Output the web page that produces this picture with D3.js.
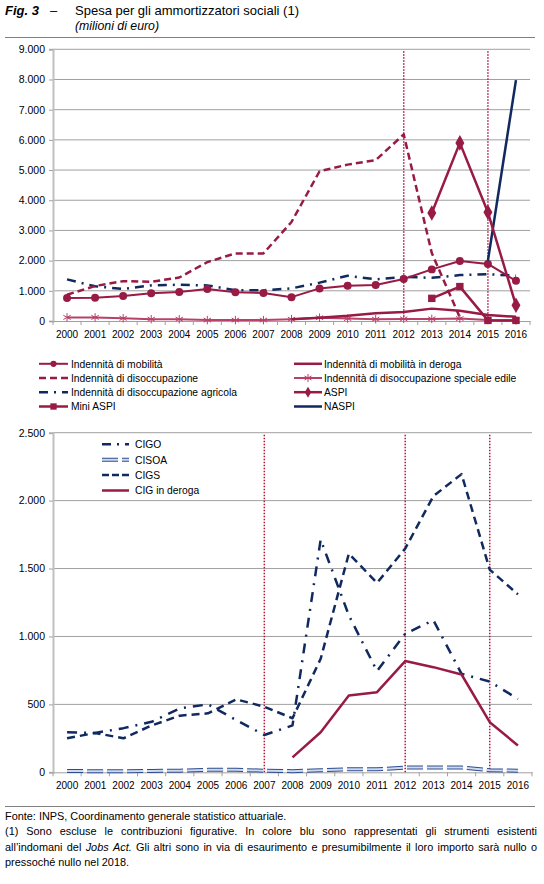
<!DOCTYPE html>
<html><head><meta charset="utf-8">
<script src="https://cdn.jsdelivr.net/npm/d3@7"></script>
<style>body{margin:0;background:#fff} svg{display:block} text{font-family:"Liberation Sans",Arial,sans-serif;fill:#000}</style>
</head><body><svg id="c" width="544" height="884"></svg>
<script>
// ---------- DATA ----------
const years = ["2000","2001","2002","2003","2004","2005","2006","2007","2008","2009","2010","2011","2012","2013","2014","2015","2016"];
const topTicks = [0,1000,2000,3000,4000,5000,6000,7000,8000,9000];
const bottomTicks = [0,500,1000,1500,2000,2500];
const N = null;
const mobilita      = [760,770,830,920,960,1060,950,930,790,1080,1170,1190,1390,1710,1990,1890,1330];
const disoccupazione= [870,1160,1320,1300,1440,1950,2240,2240,3280,4960,5180,5330,6180,2250,120,N,N];
const agricola      = [1380,1150,1060,1180,1200,1180,1020,1020,1080,1270,1500,1380,1460,1430,1520,1550,1500];
const mobDeroga     = [N,N,N,N,N,N,N,N,60,110,170,260,300,410,340,200,140];
const edile         = [120,120,90,60,60,30,30,30,60,110,80,60,70,70,80,30,20];
const aspi          = [N,N,N,N,N,N,N,N,N,N,N,N,N,3580,5900,3600,520];
const miniAspi      = [N,N,N,N,N,N,N,N,N,N,N,N,N,750,1140,20,20];
const naspi         = [N,N,N,N,N,N,N,N,N,N,N,N,N,N,N,2000,7980];

const cigo      = [294,290,325,372,470,500,385,275,345,1713,1155,745,1020,1120,725,668,540];
const cisoa     = [10,8,8,10,12,18,18,12,8,15,22,22,35,35,35,15,12];
const cigs      = [250,290,250,345,417,434,537,483,398,836,1610,1394,1647,2033,2195,1492,1310];
const cigDeroga = [N,N,N,N,N,N,N,N,110,295,565,590,819,774,720,369,197];

const topMarkYears = ["2012","2015"];
const bottomMarkYears = ["2007","2012","2015"];

const topLegend = [
  {name:"Indennità di mobilità", col:0, key:"mob"},
  {name:"Indennità di disoccupazione", col:0, key:"dis"},
  {name:"Indennità di disoccupazione agricola", col:0, key:"agr"},
  {name:"Mini ASPI", col:0, key:"mini"},
  {name:"Indennità di mobilità in deroga", col:1, key:"mder"},
  {name:"Indennità di disoccupazione speciale edile", col:1, key:"edi"},
  {name:"ASPI", col:1, key:"aspi"},
  {name:"NASPI", col:1, key:"naspi"}
];
const bottomLegend = ["CIGO","CISOA","CIGS","CIG in deroga"];

// ---------- STYLE ----------
const RED = "#981b45", NAVY = "#10295f", PINK = "#b8416a";
const svg = d3.select("#c");
const fmt = d3.formatLocale({decimal:",",thousands:".",grouping:[3],currency:["","€"]}).format(",d");

// ---------- TITLE ----------
svg.append("text").attr("x",5).attr("y",15).style("font-size","13px")
  .style("font-weight","bold").style("font-style","italic").text("Fig. 3");
svg.append("text").attr("x",50).attr("y",15).style("font-size","13px").text("–");
svg.append("text").attr("x",75).attr("y",15).style("font-size","13px").text("Spesa per gli ammortizzatori sociali (1)");
svg.append("text").attr("x",75).attr("y",30).style("font-size","12.3px").style("font-style","italic").text("(milioni di euro)");
svg.append("line").attr("x1",5).attr("x2",535).attr("y1",37.5).attr("y2",37.5).attr("stroke","#808080").attr("stroke-width",1);

// ---------- helpers ----------
function drawPanel(cfg){
  const x = d3.scaleBand().domain(years).range([cfg.x0,cfg.x1]).padding(0);
  const xc = d => x(d)+x.bandwidth()/2;
  const y = d3.scaleLinear().domain([0,cfg.max]).range([cfg.yb,cfg.yt]);
  const g = svg.append("g");
  g.selectAll(".grid").data(cfg.ticks.filter(t=>t>0)).join("line")
    .attr("x1",cfg.x0).attr("x2",cfg.x1).attr("y1",d=>y(d)).attr("y2",d=>y(d))
    .attr("stroke","#a0a0a0").attr("stroke-width",1);
  const ya = d3.axisLeft(y).tickValues(cfg.ticks).tickFormat(fmt).tickSize(4).tickPadding(4);
  const yg = g.append("g").attr("transform",`translate(${cfg.x0},0)`).call(ya);
  yg.select(".domain").attr("stroke","#c0c0c0").attr("stroke-width",2);
  yg.selectAll(".tick line").attr("stroke","#a0a0a0");
  yg.selectAll("text").style("font-size","10.5px").style("fill","#000").style("font-family","'Liberation Sans',Arial,sans-serif");
  const xa = d3.axisBottom(x).tickSize(0).tickPadding(10);
  const xg = g.append("g").attr("transform",`translate(0,${cfg.yb})`).call(xa);
  xg.select(".domain").attr("stroke","#a0a0a0").attr("stroke-width",1);
  xg.selectAll("text").style("font-size","10px").style("fill","#000").style("font-family","'Liberation Sans',Arial,sans-serif");
  xg.selectAll(".btick").data(years.concat(["end"])).join("line").attr("class","btick")
    .attr("x1",(d,i)=>cfg.x0+i*x.bandwidth()).attr("x2",(d,i)=>cfg.x0+i*x.bandwidth())
    .attr("y1",0).attr("y2",4).attr("stroke","#a0a0a0");
  g.selectAll(".vm").data(cfg.marks).join("line")
    .attr("x1",d=>xc(d)).attr("x2",d=>xc(d)).attr("y1",cfg.yt+2).attr("y2",cfg.yb)
    .attr("stroke","#b0173f").attr("stroke-width",1.5).attr("stroke-dasharray","1.5,1.5");
  return {x,xc,y,g};
}
function series(vals){ return vals.map((v,i)=>({yr:years[i],v})); }
function drawLine(P, vals, st){
  const line = d3.line().defined(d=>d.v!=null).x(d=>P.xc(d.yr)).y(d=>P.y(d.v));
  const p = P.g.append("path").datum(series(vals)).attr("d",line).attr("fill","none")
    .attr("stroke",st.color).attr("stroke-width",st.w||2.5).attr("stroke-linejoin","round");
  if(st.dash) p.attr("stroke-dasharray",st.dash);
  return p;
}
function drawMarkers(P, vals, type, color, size){
  const pts = series(vals).filter(d=>d.v!=null);
  const sym = d3.symbol().type(type).size(size);
  const m = P.g.selectAll(null).data(pts).join("path")
    .attr("transform",d=>`translate(${P.xc(d.yr)},${P.y(d.v)})`).attr("d",sym);
  if(type===d3.symbolAsterisk) m.attr("fill","none").attr("stroke",color).attr("stroke-width",1);
  else m.attr("fill",color);
}

// ---------- TOP CHART ----------
const T = drawPanel({x0:53,x1:530,yt:49.3,yb:321,max:9000,ticks:topTicks,marks:topMarkYears});
drawLine(T, agricola, {color:NAVY, dash:"9,6,2,6", w:2.5});
drawLine(T, disoccupazione, {color:RED, dash:"7,4", w:2.5});
drawLine(T, edile, {color:PINK, w:2});
drawMarkers(T, edile, d3.symbolAsterisk, PINK, 50);
drawLine(T, mobDeroga, {color:RED, w:2.5});
drawLine(T, mobilita, {color:RED, w:2});
drawMarkers(T, mobilita, d3.symbolCircle, RED, 50);
drawLine(T, miniAspi, {color:RED, w:2.5});
drawMarkers(T, miniAspi, d3.symbolSquare, RED, 55);
drawLine(T, naspi, {color:NAVY, w:2.5});
drawLine(T, aspi, {color:RED, w:2.5});
drawMarkers(T, aspi, d3.symbolDiamond, RED, 70);

// top legend
const legStyle = {
  mob:{color:RED,w:2,m:d3.symbolCircle,ms:30},
  dis:{color:RED,w:2.5,dash:"7,4"},
  agr:{color:NAVY,w:2.5,dash:"9,6,2,6"},
  mini:{color:RED,w:2.5,m:d3.symbolSquare,ms:40},
  mder:{color:RED,w:2.5},
  edi:{color:PINK,w:2,m:d3.symbolAsterisk,ms:45},
  aspi:{color:RED,w:2.5,m:d3.symbolDiamond,ms:35},
  naspi:{color:NAVY,w:2.5}
};
const rowY = [363.8,378,392.2,406.5];
topLegend.forEach(it=>{
  const idx = topLegend.filter(o=>o.col===it.col).indexOf(it);
  const yy = rowY[idx];
  const lx0 = it.col===0 ? 39 : 294, lx1 = it.col===0 ? 68 : 322, tx = it.col===0 ? 71 : 324;
  const s = legStyle[it.key];
  const l = svg.append("line").attr("x1",lx0).attr("x2",lx1).attr("y1",yy).attr("y2",yy)
    .attr("stroke",s.color).attr("stroke-width",s.w);
  if(s.dash) l.attr("stroke-dasharray",s.dash);
  if(s.m){
    const mk = svg.append("path").attr("transform",`translate(${(lx0+lx1)/2},${yy})`).attr("d",d3.symbol().type(s.m).size(s.ms)());
    if(s.m===d3.symbolAsterisk) mk.attr("fill","none").attr("stroke",s.color).attr("stroke-width",1);
    else mk.attr("fill",s.color);
  }
  svg.append("text").attr("x",tx).attr("y",yy+3.7).style("font-size","10.3px").text(it.name);
});

// ---------- BOTTOM CHART ----------
const B = drawPanel({x0:53,x1:532,yt:432.7,yb:772.3,max:2500,ticks:bottomTicks,marks:bottomMarkYears});
drawLine(B, cisoa, {color:"#2c4c8f", w:4, dash:"16,4"});
drawLine(B, cisoa, {color:"#cfdaf0", w:2, dash:"16,4"});
drawLine(B, cigo, {color:NAVY, dash:"10,7,2,7", w:2.5});
drawLine(B, cigs, {color:NAVY, dash:"8,5", w:2.5});
drawLine(B, cigDeroga, {color:RED, w:2.5});

const bRowY = [444.3,459.8,475,490.5];
bottomLegend.forEach((name,i)=>{
  const yy = bRowY[i];
  const mk = (c,w,d)=>{const l=svg.append("line").attr("x1",102).attr("x2",129).attr("y1",yy).attr("y2",yy).attr("stroke",c).attr("stroke-width",w); if(d) l.attr("stroke-dasharray",d);};
  if(i===0) mk(NAVY,2.5,"9,6,2,6");
  if(i===1){ mk("#2c4c8f",4,"16,4"); mk("#cfdaf0",2,"16,4"); }
  if(i===2) mk(NAVY,2.5,"7,3");
  if(i===3) mk(RED,2.5);
  svg.append("text").attr("x",135).attr("y",yy+3.7).style("font-size","10.3px").text(name);
});

// ---------- FOOTER ----------
svg.append("line").attr("x1",5).attr("x2",535).attr("y1",806.5).attr("y2",806.5).attr("stroke","#808080");
const fs = "10.9px";
const lines = [
  {words:["Fonte:","INPS,","Coordinamento","generale","statistico","attuariale."], just:false, y:819.5},
  {words:["(1)","Sono","escluse","le","contribuzioni","figurative.","In","colore","blu","sono","rappresentati","gli","strumenti","esistenti"], just:true, y:835},
  {words:["all’indomani","del","*Jobs","*Act.","Gli","altri","sono","in","via","di","esaurimento","e","presumibilmente","il","loro","importo","sarà","nullo","o"], just:true, y:850.5},
  {words:["pressoché","nullo","nel","2018."], just:false, y:866}
];
const X0 = 5, X1 = 537;
lines.forEach(L=>{
  const nodes = L.words.map(w=>{
    const it = w.startsWith("*");
    const t = svg.append("text").attr("y",L.y).style("font-size",fs).text(it?w.slice(1):w);
    if(it) t.style("font-style","italic");
    return t;
  });
  const widths = nodes.map(n=>n.node().getComputedTextLength());
  const total = d3.sum(widths);
  const space = L.just ? (X1-X0-total)/(nodes.length-1) : 3;
  let cx = X0;
  nodes.forEach((n,i)=>{ n.attr("x",cx); cx += widths[i]+space; });
});
</script>
</body></html>
